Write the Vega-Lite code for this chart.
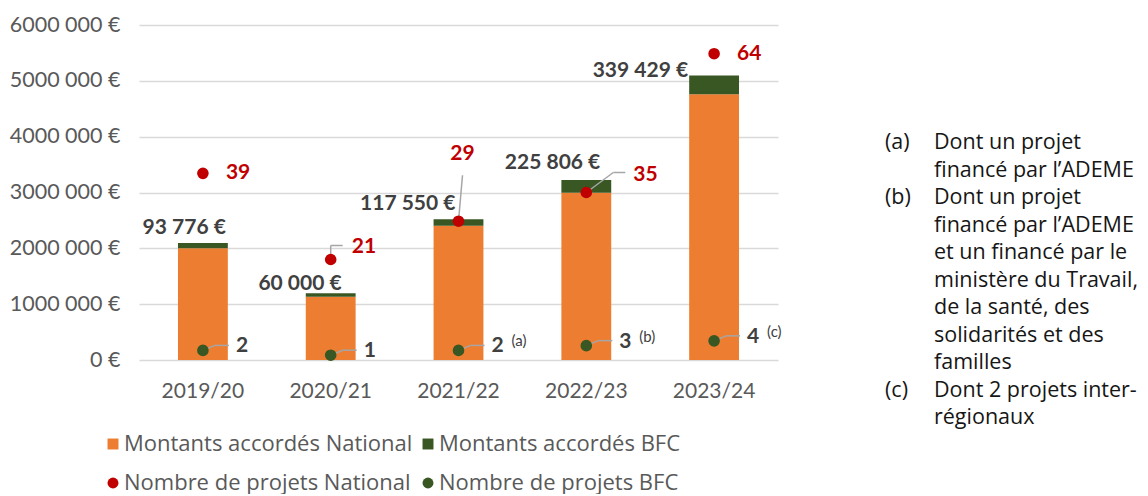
{
  "$schema": "https://vega.github.io/schema/vega-lite/v6.json",
  "padding": {"left": 9, "top": 14, "right": 0, "bottom": 0},
  "spacing": 103,
  "config": {
    "view": {"stroke": null},
    "font": "Lato",
    "legend": {
      "title": null,
      "orient": "none",
      "legendX": -37,
      "legendY": 408,
      "direction": "horizontal",
      "columns": 2,
      "labelFont": "Open Sans",
      "labelFontSize": 22,
      "labelColor": "#595959",
      "labelLimit": 500,
      "labelOffset": 0,
      "rowPadding": 17,
      "columnPadding": 4,
      "symbolSize": 120,
      "symbolStrokeWidth": 0
    }
  },
  "datasets": {
    "montants": [
      {"annee": "2019/20", "serie": "Montants accordés National", "montant": 2000000, "etiquette": ""},
      {"annee": "2019/20", "serie": "Montants accordés BFC", "montant": 93776, "etiquette": "93 776 €"},
      {"annee": "2020/21", "serie": "Montants accordés National", "montant": 1134000, "etiquette": ""},
      {"annee": "2020/21", "serie": "Montants accordés BFC", "montant": 60000, "etiquette": "60 000 €"},
      {"annee": "2021/22", "serie": "Montants accordés National", "montant": 2405000, "etiquette": ""},
      {"annee": "2021/22", "serie": "Montants accordés BFC", "montant": 117550, "etiquette": "117 550 €"},
      {"annee": "2022/23", "serie": "Montants accordés National", "montant": 2997000, "etiquette": ""},
      {"annee": "2022/23", "serie": "Montants accordés BFC", "montant": 225806, "etiquette": "225 806 €"},
      {"annee": "2023/24", "serie": "Montants accordés National", "montant": 4758000, "etiquette": ""},
      {"annee": "2023/24", "serie": "Montants accordés BFC", "montant": 339429, "etiquette": "339 429 €"}
    ],
    "projets": [
      {"annee": "2019/20", "serie": "Nombre de projets National", "nombre": 39, "note": ""},
      {"annee": "2019/20", "serie": "Nombre de projets BFC", "nombre": 2, "note": ""},
      {"annee": "2020/21", "serie": "Nombre de projets National", "nombre": 21, "note": ""},
      {"annee": "2020/21", "serie": "Nombre de projets BFC", "nombre": 1, "note": ""},
      {"annee": "2021/22", "serie": "Nombre de projets National", "nombre": 29, "note": ""},
      {"annee": "2021/22", "serie": "Nombre de projets BFC", "nombre": 2, "note": "(a)"},
      {"annee": "2022/23", "serie": "Nombre de projets National", "nombre": 35, "note": ""},
      {"annee": "2022/23", "serie": "Nombre de projets BFC", "nombre": 3, "note": "(b)"},
      {"annee": "2023/24", "serie": "Nombre de projets National", "nombre": 64, "note": ""},
      {"annee": "2023/24", "serie": "Nombre de projets BFC", "nombre": 4, "note": "(c)"}
    ],
    "notes": [
      {"ligne": 1, "colonne": "repère", "contenu": "(a)"},
      {"ligne": 1, "colonne": "texte", "contenu": "Dont un projet"},
      {"ligne": 2, "colonne": "texte", "contenu": "financé par l’ADEME"},
      {"ligne": 3, "colonne": "repère", "contenu": "(b)"},
      {"ligne": 3, "colonne": "texte", "contenu": "Dont un projet"},
      {"ligne": 4, "colonne": "texte", "contenu": "financé par l’ADEME"},
      {"ligne": 5, "colonne": "texte", "contenu": "et un financé par le"},
      {"ligne": 6, "colonne": "texte", "contenu": "ministère du Travail,"},
      {"ligne": 7, "colonne": "texte", "contenu": "de la santé, des"},
      {"ligne": 8, "colonne": "texte", "contenu": "solidarités et des"},
      {"ligne": 9, "colonne": "texte", "contenu": "familles"},
      {"ligne": 10, "colonne": "repère", "contenu": "(c)"},
      {"ligne": 10, "colonne": "texte", "contenu": "Dont 2 projets inter-"},
      {"ligne": 11, "colonne": "texte", "contenu": "régionaux"}
    ]
  },
  "resolve": {"legend": {"color": "independent", "shape": "independent"}},
  "hconcat": [
    {
      "width": 639,
      "height": 335,
      "encoding": {
        "x": {
          "field": "annee",
          "type": "nominal",
          "scale": {"paddingInner": 0.61, "paddingOuter": 0.305},
          "axis": {"title": null, "domain": false, "ticks": false, "labelAngle": 0, "labelPadding": 20, "labelFont": "Lato", "labelFontSize": 21, "labelColor": "#595959", "grid": false}
        }
      },
      "resolve": {"scale": {"y": "independent"}},
      "layer": [
        {
          "data": {"name": "montants"},
          "layer": [
            {
              "mark": {"type": "bar"},
              "encoding": {
                "y": {
                  "field": "montant",
                  "type": "quantitative",
                  "stack": "zero",
                  "scale": {"domain": [0, 6000000], "nice": false},
                  "axis": {
                    "title": null,
                    "values": [0, 1000000, 2000000, 3000000, 4000000, 5000000, 6000000],
                    "labelExpr": "datum.value == 0 ? '0 €' : format(datum.value / 1000, 'd') + ' 000 €'",
                    "grid": true,
                    "gridColor": "#D9D9D9",
                    "gridWidth": 1.3,
                    "domain": false,
                    "ticks": false,
                    "labelPadding": 19,
                    "labelFont": "Lato",
                    "labelFontSize": 21.5,
                    "labelColor": "#595959"
                  }
                },
                "color": {
                  "field": "serie",
                  "type": "nominal",
                  "scale": {
                    "domain": ["Montants accordés National", "Montants accordés BFC", "Nombre de projets National", "Nombre de projets BFC"],
                    "range": ["#ED7D31", "#385723", "#C00000", "#385723"]
                  }
                },
                "order": {"field": "serie", "sort": "descending"}
              }
            },
            {
              "transform": [
                {"stack": "montant", "groupby": ["annee"], "sort": [{"field": "serie", "order": "descending"}], "as": ["m0", "m1"]},
                {"filter": "datum.serie == 'Montants accordés BFC'"}
              ],
              "encoding": {
                "y": {"field": "m1", "type": "quantitative"},
                "text": {"field": "etiquette"}
              },
              "layer": [
                {"transform": [{"filter": "datum.annee == '2019/20'"}], "mark": {"type": "text", "align": "right", "baseline": "middle", "dx": 23, "dy": -15, "font": "Lato", "fontSize": 21, "fontWeight": "bold", "color": "#404040"}},
                {"transform": [{"filter": "datum.annee == '2020/21'"}], "mark": {"type": "text", "align": "right", "baseline": "middle", "dx": 11, "dy": -9, "font": "Lato", "fontSize": 21, "fontWeight": "bold", "color": "#404040"}},
                {"transform": [{"filter": "datum.annee == '2021/22'"}], "mark": {"type": "text", "align": "right", "baseline": "middle", "dx": -3, "dy": -15, "font": "Lato", "fontSize": 21, "fontWeight": "bold", "color": "#404040"}},
                {"transform": [{"filter": "datum.annee == '2022/23'"}], "mark": {"type": "text", "align": "right", "baseline": "middle", "dx": 14, "dy": -17, "font": "Lato", "fontSize": 21, "fontWeight": "bold", "color": "#404040"}},
                {"transform": [{"filter": "datum.annee == '2023/24'"}], "mark": {"type": "text", "align": "right", "baseline": "middle", "dx": -26, "dy": -4, "font": "Lato", "fontSize": 21, "fontWeight": "bold", "color": "#404040"}}
              ]
            }
          ]
        },
        {
          "data": {"name": "projets"},
          "encoding": {
            "y": {"field": "nombre", "type": "quantitative", "scale": {"domain": [0, 70], "nice": false}, "axis": null}
          },
          "layer": [
            {
              "transform": [{"filter": "datum.serie == 'Nombre de projets BFC'"}],
              "mark": {"type": "rule", "color": "#A6A6A6", "strokeWidth": 1.5, "x2Offset": 12, "y2Offset": -5},
              "encoding": {"x2": {"field": "annee"}, "y2": {"field": "nombre"}}
            },
            {
              "transform": [{"filter": "datum.serie == 'Nombre de projets BFC'"}],
              "mark": {"type": "rule", "color": "#A6A6A6", "strokeWidth": 1.5, "xOffset": 12, "x2Offset": 26, "yOffset": -5, "y2Offset": -5},
              "encoding": {"x2": {"field": "annee"}, "y2": {"field": "nombre"}}
            },
            {
              "transform": [{"filter": "datum.serie == 'Nombre de projets National' && datum.annee == '2020/21'"}],
              "mark": {"type": "rule", "color": "#A6A6A6", "strokeWidth": 1.5, "y2Offset": -14},
              "encoding": {"x2": {"field": "annee"}, "y2": {"field": "nombre"}}
            },
            {
              "transform": [{"filter": "datum.serie == 'Nombre de projets National' && datum.annee == '2020/21'"}],
              "mark": {"type": "rule", "color": "#A6A6A6", "strokeWidth": 1.5, "x2Offset": 12, "yOffset": -14, "y2Offset": -14},
              "encoding": {"x2": {"field": "annee"}, "y2": {"field": "nombre"}}
            },
            {
              "transform": [{"filter": "datum.serie == 'Nombre de projets National' && datum.annee == '2021/22'"}],
              "mark": {"type": "rule", "color": "#A6A6A6", "strokeWidth": 1.5, "x2Offset": 4, "y2Offset": -46},
              "encoding": {"x2": {"field": "annee"}, "y2": {"field": "nombre"}}
            },
            {
              "transform": [{"filter": "datum.serie == 'Nombre de projets National' && datum.annee == '2022/23'"}],
              "mark": {"type": "rule", "color": "#A6A6A6", "strokeWidth": 1.5, "x2Offset": 27, "y2Offset": -20},
              "encoding": {"x2": {"field": "annee"}, "y2": {"field": "nombre"}}
            },
            {
              "transform": [{"filter": "datum.serie == 'Nombre de projets National' && datum.annee == '2022/23'"}],
              "mark": {"type": "rule", "color": "#A6A6A6", "strokeWidth": 1.5, "xOffset": 27, "x2Offset": 39, "yOffset": -20, "y2Offset": -20},
              "encoding": {"x2": {"field": "annee"}, "y2": {"field": "nombre"}}
            },
            {
              "mark": {"type": "point", "filled": true, "size": 135, "opacity": 1},
              "encoding": {
                "color": {"field": "serie", "type": "nominal"},
                "shape": {
                  "field": "serie",
                  "type": "nominal",
                  "scale": {
                    "domain": ["Montants accordés National", "Montants accordés BFC", "Nombre de projets National", "Nombre de projets BFC"],
                    "range": ["square", "square", "circle", "circle"]
                  }
                }
              }
            },
            {
              "transform": [{"filter": "datum.serie == 'Nombre de projets BFC'"}],
              "mark": {"type": "text", "align": "left", "baseline": "middle", "dx": 33, "dy": -4, "font": "Lato", "fontSize": 21, "fontWeight": "bold", "color": "#404040"},
              "encoding": {"text": {"field": "nombre", "type": "quantitative"}}
            },
            {
              "transform": [{"filter": "datum.serie == 'Nombre de projets BFC' && datum.note != ''"}],
              "mark": {"type": "text", "align": "left", "baseline": "middle", "dx": 53, "dy": -9, "font": "Lato", "fontSize": 15, "color": "#404040"},
              "encoding": {"text": {"field": "note"}}
            },
            {
              "transform": [{"filter": "datum.serie == 'Nombre de projets National' && (datum.annee == '2019/20' || datum.annee == '2023/24')"}],
              "mark": {"type": "text", "align": "left", "baseline": "middle", "dx": 23, "dy": 0, "font": "Lato", "fontSize": 21, "fontWeight": "bold", "color": "#C00000"},
              "encoding": {"text": {"field": "nombre", "type": "quantitative"}}
            },
            {
              "transform": [{"filter": "datum.serie == 'Nombre de projets National' && datum.annee == '2020/21'"}],
              "mark": {"type": "text", "align": "left", "baseline": "middle", "dx": 21, "dy": -13, "font": "Lato", "fontSize": 21, "fontWeight": "bold", "color": "#C00000"},
              "encoding": {"text": {"field": "nombre", "type": "quantitative"}}
            },
            {
              "transform": [{"filter": "datum.serie == 'Nombre de projets National' && datum.annee == '2021/22'"}],
              "mark": {"type": "text", "align": "center", "baseline": "middle", "dx": 4, "dy": -67, "font": "Lato", "fontSize": 21, "fontWeight": "bold", "color": "#C00000"},
              "encoding": {"text": {"field": "nombre", "type": "quantitative"}}
            },
            {
              "transform": [{"filter": "datum.serie == 'Nombre de projets National' && datum.annee == '2022/23'"}],
              "mark": {"type": "text", "align": "left", "baseline": "middle", "dx": 47, "dy": -18, "font": "Lato", "fontSize": 21, "fontWeight": "bold", "color": "#C00000"},
              "encoding": {"text": {"field": "nombre", "type": "quantitative"}}
            }
          ]
        }
      ]
    },
    {
      "width": 49,
      "height": 335,
      "data": {"name": "notes"},
      "mark": {"type": "text", "align": "left", "baseline": "middle", "font": "Open Sans", "fontSize": 21.5, "color": "#161616"},
      "encoding": {
        "x": {"field": "colonne", "type": "nominal", "scale": {"type": "point", "domain": ["repère", "texte"], "padding": 0}, "axis": null},
        "y": {"field": "ligne", "type": "quantitative", "scale": {"domain": [-3.3, 8.882], "nice": false, "zero": false, "reverse": true}, "axis": null},
        "text": {"field": "contenu"}
      }
    }
  ]
}
